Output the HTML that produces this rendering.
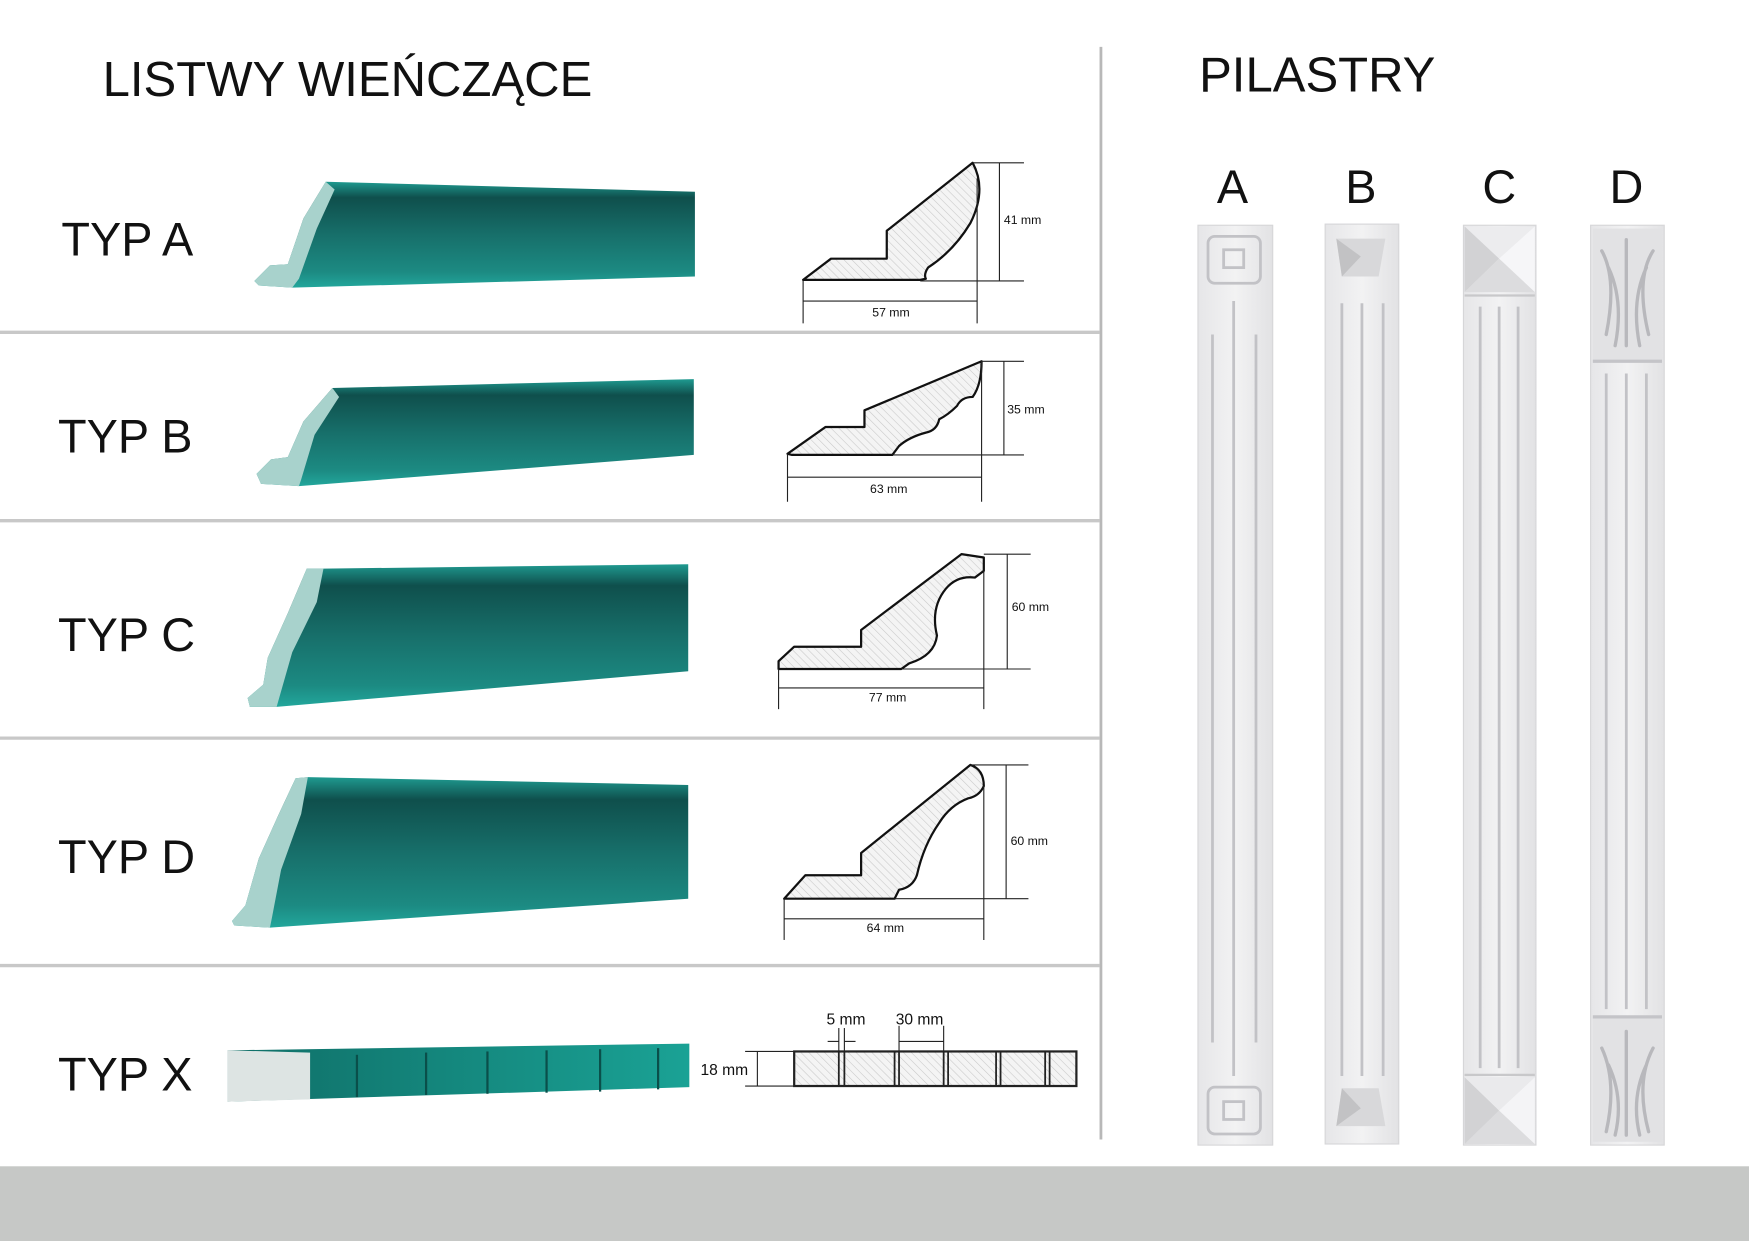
<!DOCTYPE html>
<html><head><meta charset="utf-8">
<style>
html,body{margin:0;padding:0;background:#fff;width:1749px;height:1241px;overflow:hidden}
svg{display:block}
text{font-family:"Liberation Sans",Arial,sans-serif;fill:#111}
</style></head><body>
<svg width="1749" height="1241" viewBox="0 0 1568 1113" preserveAspectRatio="none" xmlns="http://www.w3.org/2000/svg">
<defs>
<linearGradient id="tl" x1="0" y1="0" x2="0" y2="1">
<stop offset="0" stop-color="#1f9a90"/><stop offset="0.15" stop-color="#0f4f4c"/><stop offset="0.5" stop-color="#176f6a"/><stop offset="0.85" stop-color="#1c8a82"/><stop offset="1" stop-color="#22a79c"/>
</linearGradient>
<linearGradient id="tx" x1="0" y1="0" x2="1" y2="0">
<stop offset="0" stop-color="#0f6e67"/><stop offset="1" stop-color="#1aa295"/>
</linearGradient>
<pattern id="h" width="5" height="5" patternUnits="userSpaceOnUse" patternTransform="rotate(-45)">
<rect width="5" height="5" fill="#f4f4f4"/><line x1="0" y1="0" x2="0" y2="5" stroke="#c8c8c8" stroke-width="1"/>
</pattern>
<linearGradient id="pg" x1="0" y1="0" x2="1" y2="0">
<stop offset="0" stop-color="#e6e6e8"/><stop offset="0.5" stop-color="#f2f2f3"/><stop offset="1" stop-color="#e2e2e4"/>
</linearGradient>
</defs>
<rect width="1568" height="1113" fill="#fff"/>
<rect x="0" y="1046" width="1568" height="67" fill="#c6c8c6"/>
<line x1="987" y1="42" x2="987" y2="1022" stroke="#b8b8b8" stroke-width="2.5"/>
<g stroke="#c8c8c8" stroke-width="3">
<line x1="0" y1="298" x2="986" y2="298"/><line x1="0" y1="467" x2="986" y2="467"/>
<line x1="0" y1="662" x2="986" y2="662"/><line x1="0" y1="866" x2="986" y2="866"/>
</g>
<text x="92" y="86" font-size="44">LISTWY WIEŃCZĄCE</text>
<text x="1075" y="82" font-size="44">PILASTRY</text>
<g font-size="42">
<text x="55" y="229">TYP A</text><text x="52" y="406">TYP B</text>
<text x="52" y="584">TYP C</text><text x="52" y="783">TYP D</text>
<text x="52" y="978">TYP X</text>
</g>
<!-- teal mouldings -->
<polygon points="228,252 242,238 258,237 272,196 292,163 623,172 623,248 262,258 232,256" fill="url(#tl)"/>
<polygon points="228,252 242,238 258,237 272,196 292,163 300,170 284,205 268,250 262,258 232,256" fill="#a8d2cc"/>
<polygon points="230,425 243,412 258,410 272,378 298,348 622,340 622,408 268,436 234,434" fill="url(#tl)"/>
<polygon points="230,425 243,412 258,410 272,378 298,348 304,356 282,390 270,430 268,436 234,434" fill="#a8d2cc"/>
<polygon points="222,626 236,614 240,590 258,550 275,510 290,510 617,506 617,602 248,634 224,634" fill="url(#tl)"/>
<polygon points="222,626 236,614 240,590 258,550 275,510 290,510 284,540 262,585 252,620 248,634 224,634" fill="#a8d2cc"/>
<polygon points="208,826 220,812 232,770 250,730 265,698 276,697 617,704 617,806 242,832 210,830" fill="url(#tl)"/>
<polygon points="208,826 220,812 232,770 250,730 265,698 276,697 270,730 252,780 244,822 242,832 210,830" fill="#a8d2cc"/>
<!-- typ x -->
<polygon points="204,942 618,936 618,975 204,988" fill="url(#tx)"/>
<polygon points="204,942 278,944 278,986 204,988" fill="#dde4e3"/>
<g stroke="#0a4f4a" stroke-width="2">
<line x1="320" y1="946" x2="320" y2="984"/><line x1="382" y1="944" x2="382" y2="982"/>
<line x1="437" y1="943" x2="437" y2="981"/><line x1="490" y1="942" x2="490" y2="980"/>
<line x1="538" y1="941" x2="538" y2="979"/><line x1="590" y1="940" x2="590" y2="977"/>
</g>
<!-- profiles -->
<g stroke="#111" stroke-width="2" fill="url(#h)" stroke-linejoin="round">
<path d="M720,251 L745,232 L795,232 L795,207 L872,146 Q885,170 870,200 Q855,225 832,240 Q828,246 830,250 L825,251 Z"/>
<path d="M706,407 L740,383 L775,383 L775,368 L880,324 Q880,345 872,356 Q862,356 858,364 Q850,372 842,376 Q840,386 830,388 Q815,392 806,400 L800,408 L710,408 Z"/>
<path d="M698,593 L712,580 L772,580 L772,565 L862,497 L882,500 L882,512 L874,518 Q858,516 848,528 Q834,545 840,570 Q838,588 815,595 L808,600 L698,600 Z"/>
<path d="M703,806 L722,785 L772,785 L772,765 L870,686 Q882,690 882,705 Q878,714 868,716 Q852,722 842,738 Q828,758 822,785 Q818,796 806,798 L802,806 Z"/>
</g>
<g stroke="#222" stroke-width="1" fill="none">
<line x1="872" y1="146" x2="918" y2="146"/><line x1="825" y1="252" x2="918" y2="252"/><line x1="896" y1="146" x2="896" y2="252"/>
<line x1="720" y1="252" x2="720" y2="290"/><line x1="876" y1="160" x2="876" y2="290"/><line x1="720" y1="270" x2="876" y2="270"/>
<line x1="880" y1="324" x2="918" y2="324"/><line x1="800" y1="408" x2="918" y2="408"/><line x1="900" y1="324" x2="900" y2="408"/>
<line x1="706" y1="408" x2="706" y2="450"/><line x1="880" y1="324" x2="880" y2="450"/><line x1="706" y1="428" x2="880" y2="428"/>
<line x1="882" y1="497" x2="924" y2="497"/><line x1="808" y1="600" x2="924" y2="600"/><line x1="903" y1="497" x2="903" y2="600"/>
<line x1="698" y1="600" x2="698" y2="636"/><line x1="882" y1="512" x2="882" y2="636"/><line x1="698" y1="617" x2="882" y2="617"/>
<line x1="870" y1="686" x2="922" y2="686"/><line x1="802" y1="806" x2="922" y2="806"/><line x1="902" y1="686" x2="902" y2="806"/>
<line x1="703" y1="806" x2="703" y2="843"/><line x1="882" y1="705" x2="882" y2="843"/><line x1="703" y1="824" x2="882" y2="824"/>
</g>
<g font-size="11">
<text x="900" y="201">41 mm</text><text x="782" y="284">57 mm</text>
<text x="903" y="371">35 mm</text><text x="780" y="442">63 mm</text>
<text x="907" y="548">60 mm</text><text x="779" y="629">77 mm</text>
<text x="906" y="758">60 mm</text><text x="777" y="836">64 mm</text>
</g>
<!-- X profile -->
<g stroke="#222" stroke-width="2" fill="url(#h)">
<rect x="712" y="943" width="253" height="31"/>
</g>
<g stroke="#222" stroke-width="1.6">
<line x1="752" y1="943" x2="752" y2="974"/><line x1="757" y1="943" x2="757" y2="974"/>
<line x1="802" y1="943" x2="802" y2="974"/><line x1="806" y1="943" x2="806" y2="974"/>
<line x1="846" y1="943" x2="846" y2="974"/><line x1="850" y1="943" x2="850" y2="974"/>
<line x1="893" y1="943" x2="893" y2="974"/><line x1="897" y1="943" x2="897" y2="974"/>
<line x1="937" y1="943" x2="937" y2="974"/><line x1="941" y1="943" x2="941" y2="974"/>
</g>
<g stroke="#222" stroke-width="1">
<line x1="668" y1="943" x2="712" y2="943"/><line x1="668" y1="974" x2="712" y2="974"/><line x1="679" y1="943" x2="679" y2="974"/>
<line x1="752" y1="922" x2="752" y2="943"/><line x1="757" y1="922" x2="757" y2="943"/>
<line x1="742" y1="934" x2="752" y2="934"/><line x1="757" y1="934" x2="767" y2="934"/>
<line x1="806" y1="920" x2="806" y2="943"/><line x1="846" y1="920" x2="846" y2="943"/><line x1="806" y1="934" x2="846" y2="934"/>
</g>
<g font-size="14"><text x="628" y="964">18 mm</text><text x="741" y="919">5 mm</text><text x="803" y="919">30 mm</text></g>
<!-- pilasters -->
<g font-size="42"><text x="1091" y="182">A</text><text x="1206" y="182">B</text><text x="1329" y="182">C</text><text x="1443" y="182">D</text></g>
<g fill="url(#pg)" stroke="#d6d6d8" stroke-width="1">
<rect x="1074" y="202" width="67" height="825"/><rect x="1188" y="201" width="66" height="825"/>
<rect x="1312" y="202" width="65" height="825"/><rect x="1426" y="202" width="66" height="825"/>
</g>
<g fill="none" stroke="#c2c2c6" stroke-width="2.5">
<!-- A -->
<rect x="1083" y="212" width="47" height="42" rx="6"/><rect x="1097" y="224" width="18" height="16"/>
<rect x="1083" y="975" width="47" height="42" rx="6"/><rect x="1097" y="988" width="18" height="16"/>
<line x1="1087" y1="300" x2="1087" y2="935"/><line x1="1106" y1="270" x2="1106" y2="965"/><line x1="1126" y1="300" x2="1126" y2="935"/>
<!-- B -->
<line x1="1203" y1="272" x2="1203" y2="965"/><line x1="1221" y1="272" x2="1221" y2="965"/><line x1="1240" y1="272" x2="1240" y2="965"/>
<!-- C -->
<line x1="1327" y1="275" x2="1327" y2="958"/><line x1="1344" y1="275" x2="1344" y2="958"/><line x1="1361" y1="275" x2="1361" y2="958"/>
<!-- D -->
<line x1="1440" y1="335" x2="1440" y2="905"/><line x1="1458" y1="335" x2="1458" y2="905"/><line x1="1476" y1="335" x2="1476" y2="905"/>
</g>
<!-- B pyramids -->
<polygon points="1198,214 1242,214 1236,248 1203,248" fill="#d8d8da"/><polygon points="1198,214 1220,230 1203,248" fill="#c2c2c4"/>
<polygon points="1198,1010 1242,1010 1236,976 1203,976" fill="#d8d8da"/><polygon points="1203,976 1220,994 1198,1010" fill="#c2c2c4"/>
<!-- C pyramids -->
<polygon points="1313,203 1376,203 1344,232" fill="#ececee"/><polygon points="1313,203 1344,232 1313,262" fill="#d2d2d4"/>
<polygon points="1376,203 1344,232 1376,262" fill="#f6f6f8"/><polygon points="1313,262 1344,232 1376,262" fill="#dcdcde"/>
<line x1="1313" y1="265" x2="1376" y2="265" stroke="#c8c8ca" stroke-width="2"/>
<polygon points="1313,1026 1376,1026 1344,996" fill="#dcdcde"/><polygon points="1313,1026 1344,996 1313,966" fill="#d2d2d4"/>
<polygon points="1376,1026 1344,996 1376,966" fill="#f4f4f6"/><polygon points="1313,966 1344,996 1376,966" fill="#eaeaec"/>
<line x1="1313" y1="964" x2="1376" y2="964" stroke="#c8c8ca" stroke-width="2"/>
<!-- D acanthus -->
<rect x="1428" y="205" width="62" height="118" fill="#e2e2e4"/>
<rect x="1428" y="912" width="62" height="112" fill="#e2e2e4"/>
<g fill="none" stroke="#b8b8bc" stroke-width="3" stroke-linecap="round">
<path d="M1458,215 L1458,310 M1436,225 Q1450,250 1440,300 M1482,225 Q1466,250 1478,300 M1442,240 Q1456,270 1448,310 M1476,240 Q1462,270 1470,310"/>
<path d="M1458,925 L1458,1018 M1436,940 Q1450,970 1440,1015 M1482,940 Q1466,970 1478,1015 M1442,955 Q1456,985 1448,1018 M1476,955 Q1462,985 1470,1018"/>
</g>
<line x1="1428" y1="324" x2="1490" y2="324" stroke="#c4c4c8" stroke-width="3"/>
<line x1="1428" y1="912" x2="1490" y2="912" stroke="#c4c4c8" stroke-width="3"/>
</svg>
</body></html>
